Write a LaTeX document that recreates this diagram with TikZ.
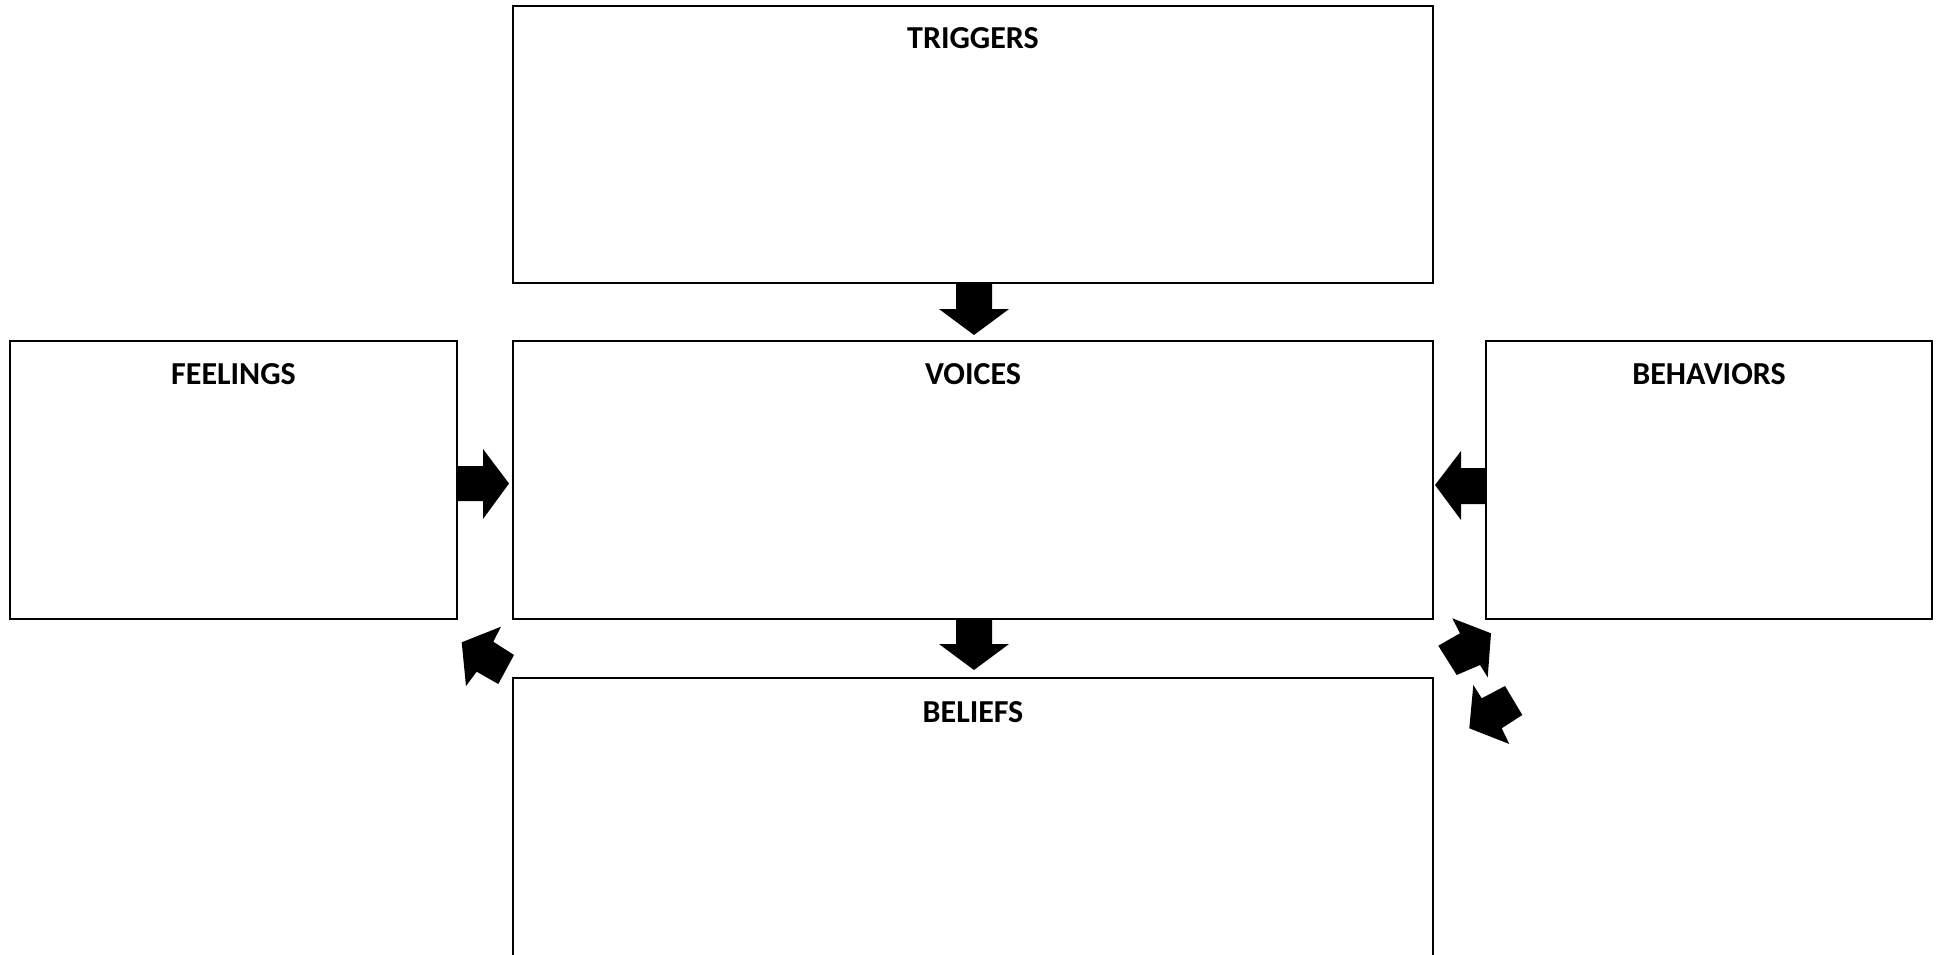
\documentclass[tikz,border=0pt]{standalone}
\usepackage{fontspec}
\setmainfont{Carlito}
\tikzset{
  box/.style={draw=black, line width=1.6pt, fill=none, inner sep=0pt},
  lbl/.style={font=\bfseries\fontsize{32}{36}\selectfont, inner sep=0pt, anchor=center},
  blockarrow/.style={fill=black, draw=none}
}
\begin{document}
\begin{tikzpicture}[x=1pt,y=-1pt]
\useasboundingbox (0,0) rectangle (1944,955);
\clip (0,0) rectangle (1944,955);
% boxes
\node[box, minimum width=920pt, minimum height=277pt] (triggers) at (973,144.5) {};
\node[box, minimum width=920pt, minimum height=278pt] (voices) at (973,480) {};
\node[box, minimum width=447pt, minimum height=278pt] (feelings) at (233.5,480) {};
\node[box, minimum width=446pt, minimum height=278pt] (behaviors) at (1709,480) {};
\node[box, minimum width=920pt, minimum height=302pt] (beliefs) at (973,829) {};
% labels
\node[lbl] (ltrig) at (973,38) {TRIGGERS};
\node[lbl] (lvoi) at (973,374) {VOICES};
\node[lbl] (lfeel) at (233.5,374) {FEELINGS};
\node[lbl] (lbeh) at (1709,374) {BEHAVIORS};
\node[lbl] (lbel) at (973,712) {BELIEFS};
% block arrows
\fill[blockarrow] (956,283) -- (992,283) -- (992,309) -- (1009,309) -- (974,335) -- (939,309) -- (956,309) -- cycle;
\fill[blockarrow] (956,619) -- (992,619) -- (992,644) -- (1009,644) -- (974,670) -- (939,644) -- (956,644) -- cycle;
\fill[blockarrow] (457,466) -- (483,466) -- (483,449) -- (509,483.5) -- (483,519) -- (483,501) -- (457,501) -- cycle;
\fill[blockarrow] (1486,468) -- (1461,468) -- (1461,451) -- (1435,485) -- (1461,520) -- (1461,504) -- (1486,504) -- cycle;
\fill[blockarrow] (461.7,642.3) -- (501,626.7) -- (493.3,641.7) -- (514,655) -- (498.3,684) -- (476.7,671.7) -- (466,686) -- cycle;
\fill[blockarrow] (1452.3,618.3) -- (1491,633.3) -- (1487.7,677.3) -- (1480,665) -- (1456.7,675) -- (1438.3,645.7) -- (1460,633.3) -- cycle;
\fill[blockarrow] (1473.3,685) -- (1481.7,698.3) -- (1505,686) -- (1522.3,715) -- (1501.7,728.3) -- (1509.3,744) -- (1469.3,728.3) -- cycle;
\end{tikzpicture}
\end{document}
